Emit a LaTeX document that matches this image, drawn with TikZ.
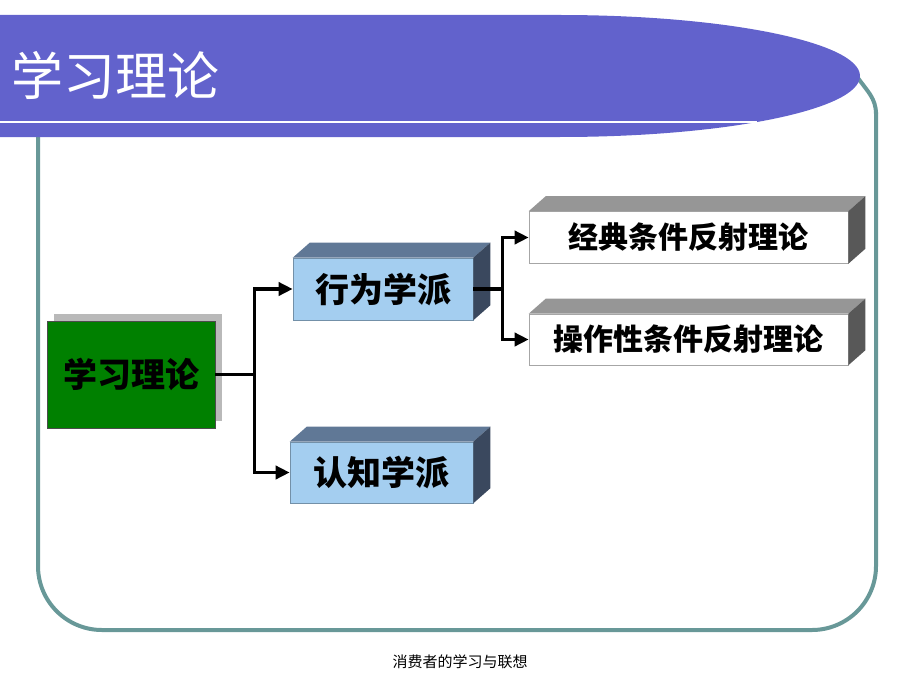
\documentclass[tikz,border=0pt]{standalone}
\usepackage{fontspec}
\setmainfont{Noto Sans CJK SC}
\usepackage{tikz}
\usetikzlibrary{calc,arrows.meta,shadows}
\usepackage{xcolor}
\definecolor{bannerblue}{RGB}{98,98,204}
\definecolor{frameteal}{RGB}{104,152,152}
\definecolor{rootgreen}{RGB}{0,128,0}
\definecolor{faceblue}{RGB}{164,206,240}
\definecolor{topblue}{RGB}{96,120,150}
\definecolor{sideblue}{RGB}{58,72,94}
\definecolor{topgray}{RGB}{150,150,150}
\definecolor{sidegray}{RGB}{88,88,88}

\begin{document}
\begin{tikzpicture}[x=1pt,y=-1pt,
    every node/.style={inner sep=0pt},
    rootbox/.style={fill=rootgreen,draw=black!70,line width=0.8pt,minimum width=168pt,minimum height=107pt,
        drop shadow={shadow xshift=7pt,shadow yshift=7pt,fill=gray!55,opacity=1},font=\fontsize{34}{40}\selectfont\bfseries},
    bluebox/.style={fill=faceblue,draw=faceblue!70!black,line width=0.6pt,minimum height=62pt,font=\fontsize{34}{40}\selectfont\bfseries},
    whitebox/.style={fill=white,draw=gray!70,line width=0.6pt,minimum width=319pt,minimum height=52pt,font=\fontsize{30}{36}\selectfont\bfseries},
    link/.style={line width=3.5pt,-{Triangle[length=14pt,width=13pt]}}]

    \useasboundingbox (0,0) rectangle (920,690);

    % Define the depth of the boxes as a coordinate
    \coordinate (depth) at (17,-15);

    % frame and title banner
    \draw[frameteal,line width=4pt,rounded corners=64] (38,125) -- (38,630) -- (876,630) -- (876,112);
    \draw[frameteal,line width=4pt] (876,114) to[out=90,in=-55] (858,78);
    \fill[bannerblue] (0,15) -- (560,15) arc[start angle=-90,end angle=90,x radius=300,y radius=61] -- (0,137) -- cycle;
    \draw[white,line width=2.5pt] (0,122) -- (757,122);
    \node[font=\fontsize{52}{60}\selectfont,text=white] (title) at (115,75) {学习理论};

    \node[rootbox] (root) at (131,374.5) {学习理论};

    \node[bluebox,minimum width=180pt] (beh) at (383,289) {行为学派};
    \node[bluebox,minimum width=183pt,minimum height=61pt] (cog) at (381.5,472.5) {认知学派};
    \node[whitebox] (cla) at (688.5,237.5) {经典条件反射理论};
    \node[whitebox,minimum height=51pt] (ope) at (688.5,339.5) {操作性条件反射理论};

    \foreach \b/\tc/\sc in {beh/topblue/sideblue,cog/topblue/sideblue,cla/topgray/sidegray,ope/topgray/sidegray}{
        \fill[\tc] (\b.north west) -- ($(\b.north west)+(depth)$) -- ($(\b.north east)+(depth)$) -- (\b.north east) -- cycle;
        \fill[\sc] (\b.north east) -- ($(\b.north east)+(depth)$) -- ($(\b.south east)+(depth)$) -- (\b.south east) -- cycle;
    }

    % connectors
    \coordinate (fork1) at ($(root.east)+(39,0)$);
    \coordinate (fork2) at ($(beh.east)+(29,0)$);
    \draw[line width=3.5pt] (root.east) -- (fork1);
    \draw[link] (fork1) |- (beh);
    \draw[link] (fork1) |- (cog);
    \draw[line width=3.5pt] (beh.east) -- (fork2);
    \draw[link] (fork2) |- (cla);
    \draw[link] (fork2) |- (ope);

    \node[font=\fontsize{15}{18}\selectfont] (footer) at (460,662) {消费者的学习与联想};

\end{tikzpicture}
\end{document}
